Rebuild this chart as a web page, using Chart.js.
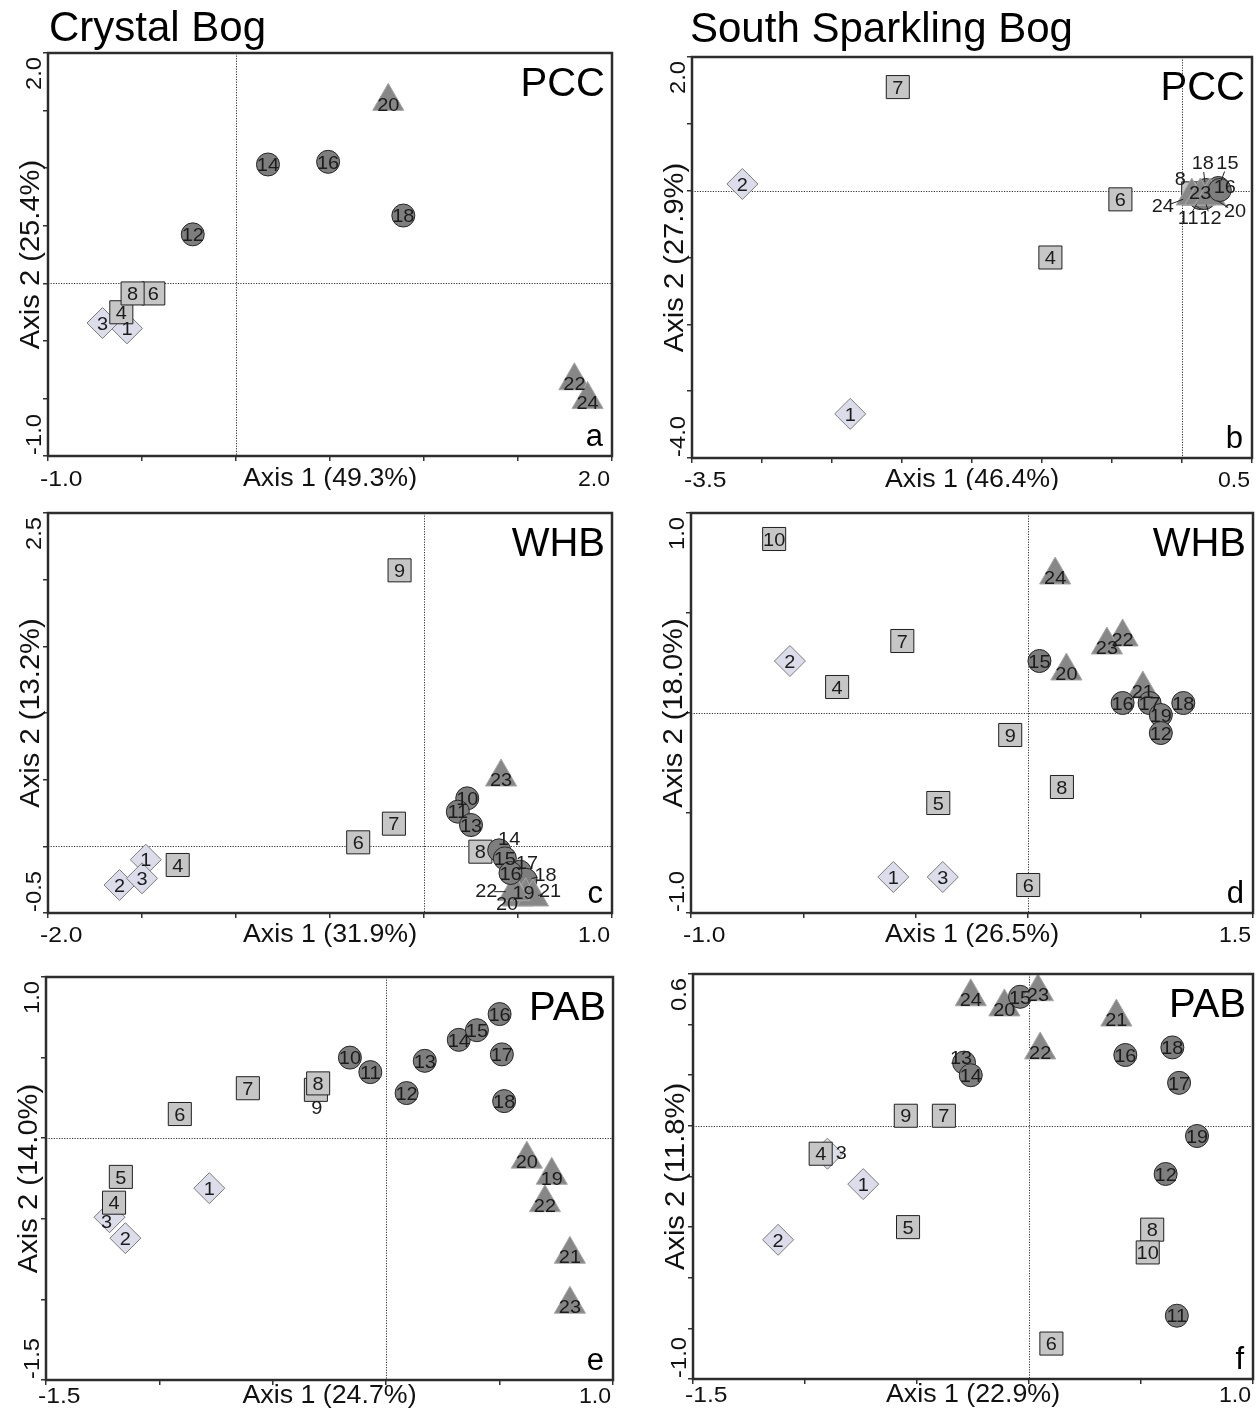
<!DOCTYPE html>
<html>
<head>
<meta charset="utf-8">
<script src="https://cdn.jsdelivr.net/npm/chart.js@4.4.1/dist/chart.umd.min.js"></script>
<style>
  html, body { margin: 0; padding: 0; background: #fff; }
  #page { position: relative; width: 1256px; height: 1418px; overflow: hidden; background: #fff; }
  #page canvas { position: absolute; }
</style>
</head>
<body>
<div id="page"></div>
<script>
'use strict';

// Group codes: D = diamond, S = square, C = circle, T = triangle

// a: Crystal Bog, PCC
const aSamples = [1, 3, 4, 6, 8, 12, 14, 16, 18, 20, 22, 24];
const aGroups = ['D', 'D', 'S', 'S', 'S', 'C', 'C', 'C', 'C', 'T', 'T', 'T'];
const aAxis1 = [-0.58, -0.71, -0.61, -0.44, -0.55, -0.23, 0.17, 0.49, 0.89, 0.81, 1.80, 1.87];
const aAxis2 = [-0.05, -0.01, 0.07, 0.21, 0.21, 0.65, 1.17, 1.19, 0.79, 1.64, -0.44, -0.58];
const aXTicks = ['-1.0', '2.0'];
const aYTicks = ['-1.0', '2.0'];

// b: South Sparkling Bog, PCC
const bSamples = [1, 2, 4, 6, 7, 8, 11, 12, 18, 15, 24, 23, 20, 16];
const bGroups = ['D', 'D', 'S', 'S', 'S', 'S', 'C', 'C', 'C', 'C', 'T', 'T', 'T', 'C'];
const bAxis1 = [-2.37, -3.14, -0.94, -0.44, -2.03, 0.08, 0.13, 0.16, 0.17, 0.26, 0.07, 0.13, 0.20, 0.27];
const bAxis2 = [-3.34, 0.10, -1.00, -0.13, 1.55, -0.04, -0.11, -0.11, 0.01, 0.04, -0.08, -0.08, -0.08, 0.01];
const bXTicks = ['-3.5', '0.5'];
const bYTicks = ['-4.0', '2.0'];

// c: Crystal Bog, WHB
const cSamples = [1, 2, 3, 4, 6, 7, 8, 9, 10, 11, 13, 17, 18, 19, 20, 21, 22, 23, 14, 15, 16];
const cGroups = ['D', 'D', 'D', 'S', 'S', 'S', 'S', 'S', 'C', 'C', 'C', 'C', 'C', 'T', 'T', 'T', 'T', 'T', 'C', 'C', 'C'];
const cAxis1 = [-1.48, -1.62, -1.50, -1.31, -0.35, -0.16, 0.30, -0.13, 0.23, 0.18, 0.25, 0.51, 0.54, 0.54, 0.50, 0.58, 0.48, 0.41, 0.40, 0.43, 0.46];
const cAxis2 = [-0.10, -0.29, -0.24, -0.14, 0.03, 0.17, -0.04, 2.07, 0.36, 0.26, 0.16, -0.19, -0.25, -0.37, -0.38, -0.38, -0.34, 0.52, -0.03, -0.09, -0.20];
const cXTicks = ['-2.0', '1.0'];
const cYTicks = ['-0.5', '2.5'];

// d: South Sparkling Bog, WHB
const dSamples = [1, 2, 3, 4, 5, 6, 7, 8, 9, 10, 20, 21, 22, 23, 24, 15, 16, 17, 18, 19, 12];
const dGroups = ['D', 'D', 'D', 'S', 'S', 'S', 'S', 'S', 'S', 'S', 'T', 'T', 'T', 'T', 'T', 'C', 'C', 'C', 'C', 'C', 'C'];
const dAxis1 = [-0.10, -0.56, 0.12, -0.35, 0.10, 0.50, -0.06, 0.65, 0.42, -0.63, 0.67, 1.01, 0.92, 0.85, 0.62, 0.55, 0.92, 1.04, 1.19, 1.09, 1.09];
const dAxis2 = [-0.82, 0.26, -0.82, 0.13, -0.45, -0.86, 0.36, -0.37, -0.11, 0.87, 0.21, 0.12, 0.38, 0.34, 0.69, 0.26, 0.05, 0.05, 0.05, -0.01, -0.10];
const dXTicks = ['-1.0', '1.5'];
const dYTicks = ['-1.0', '1.0'];

// e: Crystal Bog, PAB
const eSamples = [1, 2, 3, 4, 5, 6, 7, 9, 8, 10, 11, 12, 13, 14, 15, 16, 17, 18, 20, 19, 21, 22, 23];
const eGroups = ['D', 'D', 'D', 'S', 'S', 'S', 'S', 'S', 'S', 'C', 'C', 'C', 'C', 'C', 'C', 'C', 'C', 'C', 'T', 'T', 'T', 'T', 'T'];
const eAxis1 = [-0.78, -1.15, -1.22, -1.20, -1.17, -0.91, -0.61, -0.31, -0.30, -0.16, -0.07, 0.09, 0.17, 0.32, 0.40, 0.50, 0.51, 0.52, 0.62, 0.73, 0.81, 0.70, 0.81];
const eAxis2 = [-0.31, -0.62, -0.49, -0.40, -0.24, 0.15, 0.31, 0.30, 0.34, 0.50, 0.41, 0.28, 0.48, 0.61, 0.67, 0.77, 0.52, 0.23, -0.13, -0.23, -0.72, -0.40, -1.03];
const eXTicks = ['-1.5', '1.0'];
const eYTicks = ['-1.5', '1.0'];

// f: South Sparkling Bog, PAB
const fSamples = [1, 2, 3, 4, 5, 6, 7, 8, 9, 10, 11, 12, 13, 14, 16, 17, 18, 19, 20, 21, 22, 24, 15, 23];
const fGroups = ['D', 'D', 'D', 'S', 'S', 'S', 'S', 'S', 'S', 'S', 'C', 'C', 'C', 'C', 'C', 'C', 'C', 'C', 'T', 'T', 'T', 'T', 'C', 'T'];
const fAxis1 = [-0.74, -1.12, -0.90, -0.93, -0.54, 0.10, -0.38, 0.55, -0.55, 0.53, 0.66, 0.61, -0.29, -0.26, 0.43, 0.67, 0.64, 0.75, -0.11, 0.39, 0.05, -0.26, -0.04, 0.04];
const fAxis2 = [-0.23, -0.45, -0.11, -0.11, -0.40, -0.86, 0.04, -0.41, 0.04, -0.50, -0.75, -0.19, 0.25, 0.20, 0.28, 0.17, 0.31, -0.04, 0.47, 0.43, 0.30, 0.51, 0.51, 0.53];
const fXTicks = ['-1.5', '1.0'];
const fYTicks = ['-1.0', '0.6'];

const SHAPES = {
  D: { style: 'rectRot', radius: 15.5, fill: '#dcdcea', line: '#7c7c7c' },
  S: { style: 'rect', radius: 16.3, fill: '#c6c6c6', line: '#202020' },
  C: { style: 'circle', radius: 11.5, fill: '#7e7e7e', line: '#262626' },
  T: { style: 'triangle', radius: 18, fill: '#878787', line: '#a8a8a8' }
};
const FONT = '"Liberation Sans", Arial, Helvetica, sans-serif';
const TICK = 5;

// label nudges in pixels, third entry draws a leader line
const NUDGE = {
  b: { 8: [-13, -14], 18: [-3, -26, 1], 15: [9, -24, 1], 16: [5, -2], 23: [0, -2],
       24: [-29, 11, 1], 11: [-12, 21, 1], 12: [6, 21, 1], 20: [25, 16, 1] },
  c: { 14: [10, -11], 17: [7, -8, 1], 18: [20, -4, 1], 19: [-2, -2], 20: [-11, 8, 1],
       21: [17, -5, 1], 22: [-28, 0, 1] },
  e: { 9: [1, 19], 3: [-3, 6] },
  f: { 3: [14, 0], 13: [-3, -4] }
};

const panels = [
  { key: 'a', samples: aSamples, groups: aGroups, x: aAxis1, y: aAxis2, xTicks: aXTicks, yTicks: aYTicks,
    xTitle: 'Axis 1 (49.3%)', yTitle: 'Axis 2 (25.4%)', name: 'PCC', steps: [6, 7], cross: [0, 0.286],
    cell: [0, 0, 630, 490], area: [48, 53, 612, 456], gap: 30, title: ['Crystal Bog', 49, 41] },
  { key: 'b', samples: bSamples, groups: bGroups, x: bAxis1, y: bAxis2, xTicks: bXTicks, yTicks: bYTicks,
    xTitle: 'Axis 1 (46.4%)', yTitle: 'Axis 2 (27.9%)', name: 'PCC', steps: [8, 6], cross: [0, 0],
    cell: [630, 0, 626, 490], area: [692, 57, 1252, 458], gap: 29, title: ['South Sparkling Bog', 690, 42] },
  { key: 'c', samples: cSamples, groups: cGroups, x: cAxis1, y: cAxis2, xTicks: cXTicks, yTicks: cYTicks,
    xTitle: 'Axis 1 (31.9%)', yTitle: 'Axis 2 (13.2%)', name: 'WHB', steps: [6, 6], cross: [0, 0],
    cell: [0, 490, 630, 460], area: [48, 513, 612, 913], gap: 29 },
  { key: 'd', samples: dSamples, groups: dGroups, x: dAxis1, y: dAxis2, xTicks: dXTicks, yTicks: dYTicks,
    xTitle: 'Axis 1 (26.5%)', yTitle: 'Axis 2 (18.0%)', name: 'WHB', steps: [5, 4], cross: [0.5, 0],
    cell: [630, 490, 626, 460], area: [691, 513, 1253, 913], gap: 29 },
  { key: 'e', samples: eSamples, groups: eGroups, x: eAxis1, y: eAxis2, xTicks: eXTicks, yTicks: eYTicks,
    xTitle: 'Axis 1 (24.7%)', yTitle: 'Axis 2 (14.0%)', name: 'PAB', steps: [5, 5], cross: [0, 0],
    cell: [0, 950, 630, 468], area: [46, 977, 613, 1380], gap: 23 },
  { key: 'f', samples: fSamples, groups: fGroups, x: fAxis1, y: fAxis2, xTicks: fXTicks, yTicks: fYTicks,
    xTitle: 'Axis 1 (22.9%)', yTitle: 'Axis 2 (11.8%)', name: 'PAB', steps: [5, 8], cross: [0, 0],
    cell: [630, 950, 626, 468], area: [693, 974, 1253, 1379], gap: 23 }
];

function tickValues(min, max, n) {
  const out = [];
  for (let i = 0; i <= n; i++) out.push(min + (max - min) * i / n);
  return out;
}

// text drawn slightly widened along its run, like the source figure
function putText(ctx, text, x, y, align, font, angle, stretch) {
  ctx.save();
  ctx.translate(x, y);
  if (angle) ctx.rotate(angle);
  ctx.scale(stretch || 1, 1);
  ctx.font = font;
  ctx.textAlign = align;
  ctx.fillText(text, 0, 0);
  ctx.restore();
}

function decorPlugin(p) {
  return {
    id: 'decor',
    beforeDatasetsDraw(chart) {
      const { ctx, chartArea: a, scales } = chart;
      const cx = Math.round(scales.x.getPixelForValue(p.cross[0])) + 0.5;
      const cy = Math.round(scales.y.getPixelForValue(p.cross[1])) + 0.5;
      ctx.save();
      ctx.strokeStyle = '#333';
      ctx.lineWidth = 1;
      ctx.setLineDash([1.2, 1.4]);
      ctx.beginPath();
      ctx.moveTo(cx, a.top);
      ctx.lineTo(cx, a.bottom);
      ctx.moveTo(a.left, cy);
      ctx.lineTo(a.right, cy);
      ctx.stroke();
      ctx.restore();
    },
    afterDatasetsDraw(chart) {
      const ctx = chart.ctx;
      const meta = chart.getDatasetMeta(0);
      const nudge = NUDGE[p.key] || {};
      ctx.save();
      ctx.textBaseline = 'middle';
      meta.data.forEach((pt, i) => {
        const id = p.samples[i];
        const off = nudge[id];
        let dx = 0;
        let dy = p.groups[i] === 'T' ? 4 : 1.5;
        if (off) { dx = off[0]; dy = off[1]; }
        const lx = pt.x + dx;
        const ly = pt.y + dy;
        if (off && off[2]) {
          const len = Math.hypot(dx, dy);
          const ux = dx / len, uy = dy / len;
          ctx.strokeStyle = '#222';
          ctx.lineWidth = 1;
          ctx.beginPath();
          ctx.moveTo(pt.x + ux * len * 0.3, pt.y + uy * len * 0.3);
          ctx.lineTo(pt.x + ux * (len - 8), pt.y + uy * (len - 8));
          ctx.stroke();
        }
        ctx.fillStyle = '#1c1c1c';
        putText(ctx, String(id), lx, ly, 'center', '19px ' + FONT, 0, 1.05);
      });
      ctx.restore();
    },
    afterDraw(chart) {
      const { ctx, chartArea: a } = chart;
      ctx.save();
      ctx.strokeStyle = '#2d2d2d';
      ctx.lineWidth = 2.5;
      ctx.strokeRect(a.left, a.top, a.right - a.left, a.bottom - a.top);

      ctx.fillStyle = '#111';
      ctx.textBaseline = 'alphabetic';
      const base = a.bottom + p.gap;
      const tickFont = '22px ' + FONT;
      const titleFont = '26px ' + FONT;
      putText(ctx, p.xTicks[0], a.left - 8, base, 'left', tickFont, 0, 1.12);
      putText(ctx, p.xTicks[1], a.right - 2, base, 'right', tickFont, 0, 1.05);
      putText(ctx, p.xTitle, (a.left + a.right) / 2, base, 'center', titleFont, 0, 1.03);

      putText(ctx, p.yTicks[1], a.left - 7, a.top + 4, 'right', tickFont, -Math.PI / 2, 1.08);
      putText(ctx, p.yTicks[0], a.left - 7, a.bottom - 1, 'left', tickFont, -Math.PI / 2, 1.08);
      putText(ctx, p.yTitle, a.left - 9, (a.top + a.bottom) / 2, 'center', '28px ' + FONT, -Math.PI / 2, 1.04);

      ctx.fillStyle = '#000';
      putText(ctx, p.name, a.right - 7, a.top + 43, 'right', '40px ' + FONT, 0, 1);
      putText(ctx, p.key, a.right - 9, a.bottom - 10, 'right', '31px ' + FONT, 0, 1);

      if (p.title) {
        putText(ctx, p.title[0], p.title[1] - p.cell[0], p.title[2] - p.cell[1], 'left', '42px ' + FONT, 0, 1);
      }
      ctx.restore();
    }
  };
}

const page = document.getElementById('page');

panels.forEach(p => {
  const [cx, cy, cw, ch] = p.cell;
  const canvas = document.createElement('canvas');
  canvas.width = cw;
  canvas.height = ch;
  canvas.style.left = cx + 'px';
  canvas.style.top = cy + 'px';
  canvas.style.width = cw + 'px';
  canvas.style.height = ch + 'px';
  page.appendChild(canvas);

  const left = p.area[0] - cx, top = p.area[1] - cy;
  const right = p.area[2] - cx, bottom = p.area[3] - cy;
  const xMin = Number(p.xTicks[0]), xMax = Number(p.xTicks[1]);
  const yMin = Number(p.yTicks[0]), yMax = Number(p.yTicks[1]);

  const axisBase = {
    type: 'linear',
    ticks: { display: false },
    grid: { drawOnChartArea: false, drawTicks: true, tickLength: TICK, color: '#333', lineWidth: 1.5 },
    border: { display: false }
  };

  new Chart(canvas, {
    type: 'scatter',
    data: {
      datasets: [{
        data: p.x.map((v, i) => ({ x: v, y: p.y[i] })),
        pointStyle: p.groups.map(g => SHAPES[g].style),
        pointRadius: p.groups.map(g => SHAPES[g].radius),
        pointBackgroundColor: p.groups.map(g => SHAPES[g].fill),
        pointBorderColor: p.groups.map(g => SHAPES[g].line),
        pointBorderWidth: 1,
        clip: false
      }]
    },
    options: {
      responsive: false,
      animation: false,
      events: [],
      layout: {
        autoPadding: false,
        padding: { left: left - TICK, top: top, right: cw - right, bottom: ch - bottom - TICK }
      },
      plugins: { legend: { display: false }, tooltip: { enabled: false } },
      scales: {
        x: Object.assign({}, axisBase, {
          min: xMin, max: xMax,
          afterBuildTicks: s => { s.ticks = tickValues(xMin, xMax, p.steps[0]).map(v => ({ value: v })); },
          afterFit: s => { s.height = TICK; }
        }),
        y: Object.assign({}, axisBase, {
          min: yMin, max: yMax,
          afterBuildTicks: s => { s.ticks = tickValues(yMin, yMax, p.steps[1]).map(v => ({ value: v })); },
          afterFit: s => { s.width = TICK; }
        })
      }
    },
    plugins: [decorPlugin(p)]
  });
});
</script>
</body>
</html>
